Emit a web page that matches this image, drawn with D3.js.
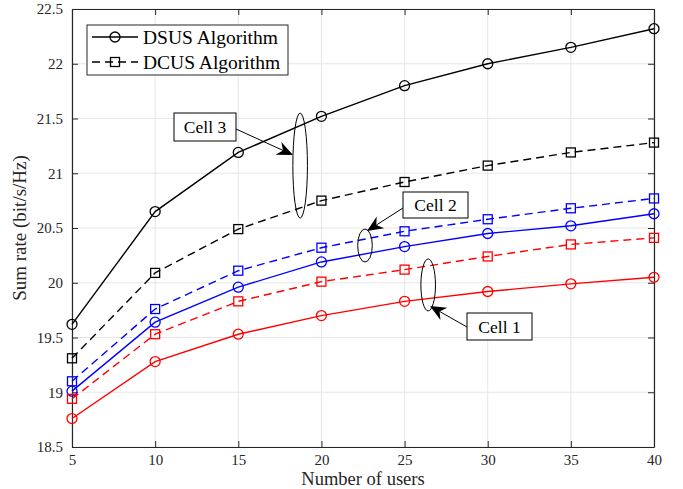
<!DOCTYPE html>
<html>
<head>
<meta charset="utf-8">
<script src="https://cdn.jsdelivr.net/npm/d3@7"></script>
<style>
  body { margin: 0; background: #fff; }
</style>
</head>
<body>
<div id="chart"></div>
<script>
const users = [5, 10, 15, 20, 25, 30, 35, 40];

// Cell 3 (black), Cell 2 (blue), Cell 1 (red)
const dsusCell3 = [19.62, 20.65, 21.19, 21.52, 21.80, 22.00, 22.15, 22.32];
const dcusCell3 = [19.31, 20.09, 20.49, 20.75, 20.92, 21.07, 21.19, 21.28];
const dsusCell2 = [19.01, 19.64, 19.96, 20.19, 20.33, 20.45, 20.52, 20.63];
const dcusCell2 = [19.10, 19.76, 20.11, 20.32, 20.47, 20.58, 20.68, 20.77];
const dsusCell1 = [18.76, 19.28, 19.53, 19.70, 19.83, 19.92, 19.99, 20.05];
const dcusCell1 = [18.94, 19.53, 19.83, 20.01, 20.12, 20.24, 20.35, 20.41];

const xTicks = [5, 10, 15, 20, 25, 30, 35, 40];
const yTicks = [18.5, 19, 19.5, 20, 20.5, 21, 21.5, 22, 22.5];
const legendLabels = ['DSUS Algorithm', 'DCUS Algorithm'];

const series = [
  { values: dsusCell3, color: '#000000', marker: 'circle', dashed: false },
  { values: dcusCell3, color: '#000000', marker: 'square', dashed: true },
  { values: dcusCell2, color: '#0000ff', marker: 'square', dashed: true },
  { values: dsusCell2, color: '#0000ff', marker: 'circle', dashed: false },
  { values: dcusCell1, color: '#ff0000', marker: 'square', dashed: true },
  { values: dsusCell1, color: '#ff0000', marker: 'circle', dashed: false }
];

const width = 683, height = 489;
const margin = { left: 72, right: 29, top: 9, bottom: 42 };
const serif = "'Liberation Serif', 'Times New Roman', serif";

const svg = d3.select('#chart').append('svg')
    .attr('width', width)
    .attr('height', height);

const x = d3.scaleLinear().domain([5, 40]).range([margin.left, width - margin.right]);
const y = d3.scaleLinear().domain([18.5, 22.5]).range([height - margin.bottom, margin.top]);

const axisColor = '#262626';

// grid
svg.append('g')
    .selectAll('line')
    .data(xTicks)
    .join('line')
    .attr('x1', d => x(d)).attr('x2', d => x(d))
    .attr('y1', y(18.5)).attr('y2', y(22.5))
    .attr('stroke', '#e6e6e6');

svg.append('g')
    .selectAll('line')
    .data(yTicks)
    .join('line')
    .attr('x1', x(5)).attr('x2', x(40))
    .attr('y1', d => y(d)).attr('y2', d => y(d))
    .attr('stroke', '#e6e6e6');

// axes (ticks inside, box on)
const fmt = d => d3.format('')(d);
const axBottom = svg.append('g')
    .attr('transform', `translate(0,${y(18.5)})`)
    .call(d3.axisBottom(x).tickValues(xTicks).tickSizeInner(-6).tickSizeOuter(0).tickPadding(7).tickFormat(fmt));
const axTop = svg.append('g')
    .attr('transform', `translate(0,${y(22.5)})`)
    .call(d3.axisTop(x).tickValues(xTicks).tickSizeInner(-6).tickSizeOuter(0).tickFormat(''));
const axLeft = svg.append('g')
    .attr('transform', `translate(${x(5)},0)`)
    .call(d3.axisLeft(y).tickValues(yTicks).tickSizeInner(-6).tickSizeOuter(0).tickPadding(9).tickFormat(fmt));
const axRight = svg.append('g')
    .attr('transform', `translate(${x(40)},0)`)
    .call(d3.axisRight(y).tickValues(yTicks).tickSizeInner(-6).tickSizeOuter(0).tickFormat(''));

[axBottom, axTop, axLeft, axRight].forEach(g => {
    g.attr('font-family', serif).attr('font-size', 15);
    g.select('.domain').attr('stroke', axisColor).attr('stroke-width', 1.2);
    g.selectAll('.tick line').attr('stroke', axisColor);
    g.selectAll('.tick text')
        .style('font-family', serif)
        .attr('fill', axisColor);
});

// labels
svg.append('text')
    .attr('x', (x(5) + x(40)) / 2)
    .attr('y', 485)
    .attr('text-anchor', 'middle')
    .style('font-family', serif)
    .attr('font-size', 18.5)
    .attr('fill', axisColor)
    .text('Number of users');

svg.append('text')
    .attr('transform', `translate(26,${(y(18.5) + y(22.5)) / 2}) rotate(-90)`)
    .attr('text-anchor', 'middle')
    .style('font-family', serif)
    .attr('font-size', 19)
    .attr('fill', axisColor)
    .text('Sum rate (bit/s/Hz)');

// series
const line = d3.line()
    .x((d, i) => x(users[i]))
    .y(d => y(d));

function drawMarker(g, type, color, cx, cy) {
    if (type === 'circle') {
        g.append('circle')
            .attr('cx', cx).attr('cy', cy).attr('r', 5)
            .attr('fill', 'none').attr('stroke', color).attr('stroke-width', 1.3);
    } else {
        g.append('rect')
            .attr('x', cx - 4.5).attr('y', cy - 4.5)
            .attr('width', 9).attr('height', 9)
            .attr('fill', 'none').attr('stroke', color).attr('stroke-width', 1.3);
    }
}

series.forEach(s => {
    const g = svg.append('g');
    g.append('path')
        .datum(s.values)
        .attr('d', line)
        .attr('fill', 'none')
        .attr('stroke', s.color)
        .attr('stroke-width', 1.4)
        .attr('stroke-dasharray', s.dashed ? '8,5' : null);
    s.values.forEach((v, i) => drawMarker(g, s.marker, s.color, x(users[i]), y(v)));
});

// legend
const lg = svg.append('g');
lg.append('rect')
    .attr('x', 87).attr('y', 25).attr('width', 201).attr('height', 50)
    .attr('fill', '#fff').attr('stroke', axisColor).attr('stroke-width', 1);
legendLabels.forEach((label, i) => {
    const ly = 37 + i * 25;
    lg.append('line')
        .attr('x1', 92).attr('x2', 138).attr('y1', ly).attr('y2', ly)
        .attr('stroke', '#000').attr('stroke-width', 1.4)
        .attr('stroke-dasharray', i === 1 ? '8,5' : null);
    drawMarker(lg, i === 0 ? 'circle' : 'square', '#000', 115, ly);
    lg.append('text')
        .attr('x', 143).attr('y', ly)
        .attr('dy', '0.35em')
        .style('font-family', serif)
        .attr('font-size', 19.5)
        .attr('fill', '#000')
        .text(label);
});

// annotations: ellipse around the cell pair, arrow from a text box
const notes = [
    { label: 'Cell 3', ex: 18.72, ey: 21.07, rx: 7.3, ry: 52.5, box: [174, 113, 62, 28], from: [236, 129], to: [293, 155] },
    { label: 'Cell 2', ex: 22.62, ey: 20.34, rx: 7.3, ry: 16.5, box: [403, 192, 65, 26], from: [403, 208], to: [367, 231] },
    { label: 'Cell 1', ex: 26.42, ey: 19.98, rx: 7.3, ry: 26, box: [467, 313, 65, 27], from: [467, 327], to: [430, 306] }
];

notes.forEach(n => {
    const g = svg.append('g');
    g.append('ellipse')
        .attr('cx', x(n.ex)).attr('cy', y(n.ey))
        .attr('rx', n.rx).attr('ry', n.ry)
        .attr('fill', 'none').attr('stroke', '#000').attr('stroke-width', 1);
    const [x1, y1] = n.from, [x2, y2] = n.to;
    const ang = Math.atan2(y2 - y1, x2 - x1);
    const len = 16, wid = 7, back = 11;
    const ux = Math.cos(ang), uy = Math.sin(ang);
    const px = -uy, py = ux;
    g.append('line')
        .attr('x1', x1).attr('y1', y1)
        .attr('x2', x2 - ux * back).attr('y2', y2 - uy * back)
        .attr('stroke', '#000').attr('stroke-width', 1);
    const head = [
        [x2, y2],
        [x2 - ux * len + px * wid, y2 - uy * len + py * wid],
        [x2 - ux * back, y2 - uy * back],
        [x2 - ux * len - px * wid, y2 - uy * len - py * wid]
    ];
    g.append('path')
        .attr('d', 'M' + head.map(p => p.join(',')).join('L') + 'Z')
        .attr('fill', '#000');
    const [bx, by, bw, bh] = n.box;
    g.append('rect')
        .attr('x', bx).attr('y', by).attr('width', bw).attr('height', bh)
        .attr('fill', '#fff').attr('stroke', '#000').attr('stroke-width', 1);
    g.append('text')
        .attr('x', bx + bw / 2).attr('y', by + bh / 2)
        .attr('dy', '0.35em')
        .attr('text-anchor', 'middle')
        .style('font-family', serif)
        .attr('font-size', 17.5)
        .attr('fill', '#000')
        .text(n.label);
});
</script>
</body>
</html>
